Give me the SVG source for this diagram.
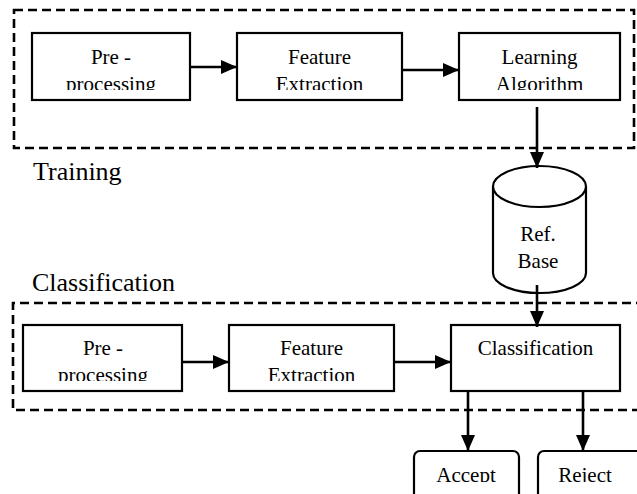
<svg xmlns="http://www.w3.org/2000/svg" width="637" height="494" viewBox="0 0 637 494" font-family="'Liberation Serif', 'Times New Roman', 'DejaVu Serif', serif">
<style>
.box{fill:#fff;stroke:#000;stroke-width:2.2}
.dash{fill:none;stroke:#000;stroke-width:2.6;stroke-dasharray:9 5}
.t{font-size:21px;fill:#000;text-anchor:middle}
.lbl{font-size:26px;fill:#000}
.con{stroke:#000;stroke-width:2.6;fill:none;marker-end:url(#ah)}
</style>
<defs>
<marker id="ah" markerUnits="userSpaceOnUse" markerWidth="16" markerHeight="14" refX="16" refY="7" orient="auto">
<path d="M0,0 L16,7 L0,14 z" fill="#000"/>
</marker>
<clipPath id="c1"><rect x="32" y="33" width="158" height="57"/></clipPath>
<clipPath id="c2"><rect x="237" y="33" width="165" height="57"/></clipPath>
<clipPath id="c3"><rect x="459" y="33" width="161" height="57"/></clipPath>
<clipPath id="c4"><rect x="23" y="325" width="159" height="56"/></clipPath>
<clipPath id="c5"><rect x="229" y="325" width="165" height="56"/></clipPath>
<clipPath id="c6"><rect x="414" y="451" width="105" height="31"/></clipPath>
<clipPath id="c7"><rect x="538" y="451" width="110" height="31"/></clipPath>
</defs>
<g id="training-region">
<rect class="dash" x="14" y="10" width="620" height="138"/>
<text class="lbl" x="33" y="180">Training</text>
</g>
<g id="classification-region">
<path class="dash" d="M645,303 H13 V410 H645"/>
<text class="lbl" x="32" y="291">Classification</text>
</g>
<g id="pre1">
<rect class="box" x="32" y="33" width="158" height="67"/>
<g clip-path="url(#c1)"><text class="t" x="111" y="64">Pre -</text><text class="t" x="111" y="91">processing</text></g>
</g>
<g id="feat1">
<rect class="box" x="237" y="33" width="165" height="67"/>
<g clip-path="url(#c2)"><text class="t" x="319.5" y="64">Feature</text><text class="t" x="319.5" y="91">Extraction</text></g>
</g>
<g id="learn">
<rect class="box" x="459" y="33" width="161" height="67"/>
<g clip-path="url(#c3)"><text class="t" x="539.5" y="64">Learning</text><text class="t" x="539.5" y="91">Algorithm</text></g>
</g>
<g id="refbase">
<path d="M493,186.5 V273 A46.5,20 0 0 0 586,273 V186.5" fill="#fff" stroke="#000" stroke-width="2.2"/>
<ellipse cx="539.5" cy="186.5" rx="46.5" ry="20.5" fill="#fff" stroke="#000" stroke-width="2.2"/>
<text class="t" x="538" y="241">Ref.</text>
<text class="t" x="538" y="268">Base</text>
</g>
<g id="pre2">
<rect class="box" x="23" y="325" width="159" height="66"/>
<g clip-path="url(#c4)"><text class="t" x="103" y="355">Pre -</text><text class="t" x="103" y="382">processing</text></g>
</g>
<g id="feat2">
<rect class="box" x="229" y="325" width="165" height="66"/>
<g clip-path="url(#c5)"><text class="t" x="311.5" y="355">Feature</text><text class="t" x="311.5" y="382">Extraction</text></g>
</g>
<g id="classify">
<rect class="box" x="451" y="325" width="169" height="66"/>
<text class="t" x="535.5" y="355">Classification</text>
</g>
<g id="accept">
<rect class="box" x="414" y="451" width="105" height="60" rx="6"/>
<g clip-path="url(#c6)"><text class="t" x="466" y="482">Accept</text></g>
</g>
<g id="reject">
<rect class="box" x="538" y="451" width="110" height="60" rx="6"/>
<g clip-path="url(#c7)"><text class="t" x="585" y="482">Reject</text></g>
</g>
<g id="connectors">
<line class="con" x1="190" y1="67" x2="237" y2="67"/>
<line class="con" x1="402" y1="70" x2="459" y2="70"/>
<line class="con" x1="537" y1="107" x2="537" y2="168"/>
<line class="con" x1="537" y1="285" x2="537" y2="327"/>
<line class="con" x1="182" y1="362" x2="229" y2="362"/>
<line class="con" x1="394" y1="362" x2="451" y2="362"/>
<line class="con" x1="468" y1="391" x2="468" y2="451"/>
<line class="con" x1="583" y1="391" x2="583" y2="451"/>
</g>
</svg>
